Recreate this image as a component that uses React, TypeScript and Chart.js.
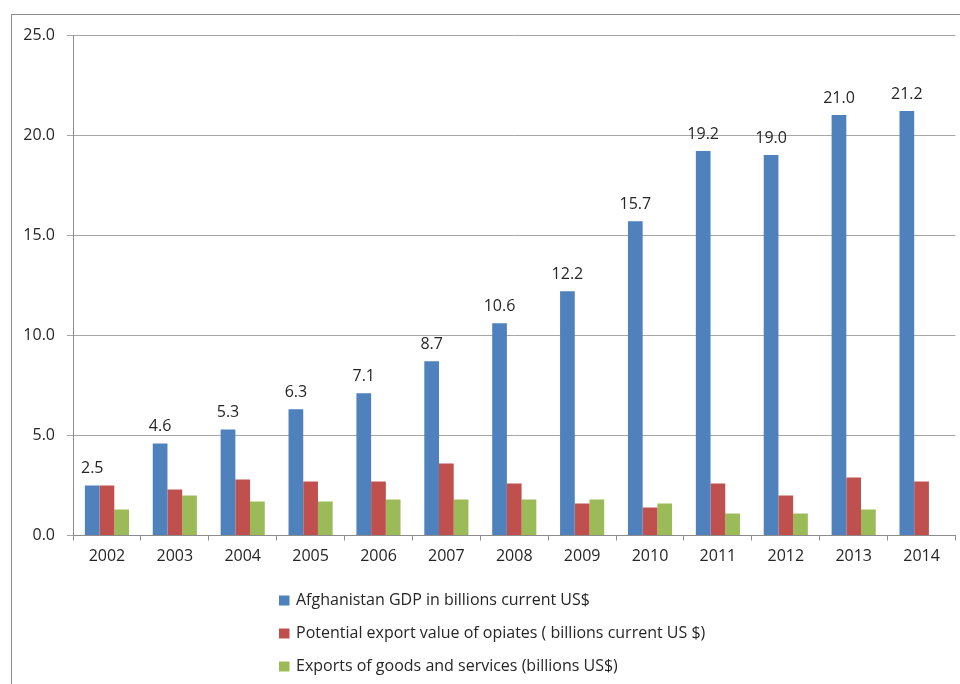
import React, { useEffect, useRef } from "react";
import { Chart, registerables } from "chart.js";

Chart.register(...registerables);

const years = ["2002", "2003", "2004", "2005", "2006", "2007", "2008", "2009", "2010", "2011", "2012", "2013", "2014"];
const gdp = [2.5, 4.6, 5.3, 6.3, 7.1, 8.7, 10.6, 12.2, 15.7, 19.2, 19.0, 21.0, 21.2];
const opiates = [2.5, 2.3, 2.8, 2.7, 2.7, 3.6, 2.6, 1.6, 1.4, 2.6, 2.0, 2.9, 2.7];
const exportsGS = [1.3, 2.0, 1.7, 1.7, 1.8, 1.8, 1.8, 1.8, 1.6, 1.1, 1.1, 1.3, null];
const seriesNames = [
  "Afghanistan GDP in billions current US$",
  "Potential export value of opiates ( billions current US $)",
  "Exports of goods and services (billions US$)",
];
const colors = ["#4F81BD", "#C0504D", "#9BBB59"];

const FONT = "'Open Sans', Lato, sans-serif";
const TEXT = "#262626";
const FS = 16;

const framePlugin = {
  id: "frame",
  beforeDraw(chart: any) {
    const ctx = chart.ctx;
    ctx.save();
    ctx.strokeStyle = "#8c8c8c";
    ctx.lineWidth = 1;
    ctx.strokeRect(11.5, 14.5, 1000, 1000);
    ctx.restore();
  },
};

const labelPlugin = {
  id: "barLabels",
  afterDatasetsDraw(chart: any) {
    const ctx = chart.ctx;
    const meta = chart.getDatasetMeta(0);
    ctx.save();
    ctx.font = `${FS}px ${FONT}`;
    ctx.fillStyle = TEXT;
    ctx.textAlign = "center";
    ctx.textBaseline = "alphabetic";
    meta.data.forEach((bar: any, i: number) => {
      const v = chart.data.datasets[0].data[i];
      if (v == null) return;
      ctx.fillText(Number(v).toFixed(1), bar.x, bar.y - 12);
    });
    ctx.restore();
  },
};

const legendPlugin = {
  id: "vLegend",
  afterDraw(chart: any) {
    const ctx = chart.ctx;
    ctx.save();
    ctx.font = `${FS}px ${FONT}`;
    ctx.textAlign = "left";
    ctx.textBaseline = "alphabetic";
    const baselines = [605, 638, 671];
    chart.data.datasets.forEach((ds: any, i: number) => {
      const b = baselines[i];
      ctx.fillStyle = ds.backgroundColor;
      ctx.fillRect(279, b - 9.5, 10.5, 10);
      ctx.fillStyle = TEXT;
      ctx.fillText(ds.label, 296, b);
    });
    ctx.restore();
  },
};

export default function App() {
  const ref = useRef<HTMLCanvasElement>(null);
  useEffect(() => {
    if (!ref.current) return;
    const chart = new Chart(ref.current, {
      type: "bar",
      data: {
        labels: years,
        datasets: [gdp, opiates, exportsGS].map((d, i) => ({
          label: seriesNames[i],
          data: d as any,
          backgroundColor: colors[i],
          borderWidth: 0,
          barPercentage: 1,
          categoryPercentage: 0.65,
        })),
      },
      options: {
        animation: false,
        responsive: false,
        maintainAspectRatio: false,
        layout: { padding: { top: 35, right: 4.5, bottom: 118.5, left: 0 } },
        plugins: {
          legend: { display: false },
          tooltip: { enabled: false },
          title: { display: false },
        },
        scales: {
          x: {
            grid: {
              display: true,
              drawOnChartArea: false,
              drawTicks: true,
              tickLength: 5,
              color: "#8c8c8c",
              offset: true,
            },
            border: { display: true, color: "#8c8c8c" },
            ticks: { color: TEXT, font: { family: FONT, size: FS }, padding: 6, maxRotation: 0 },
            afterFit(scale: any) {
              scale.height = 30;
            },
          },
          y: {
            min: 0,
            max: 25,
            grid: { color: "#a6a6a6", tickLength: 6, drawTicks: true },
            border: { display: true, color: "#8c8c8c" },
            ticks: {
              stepSize: 5,
              color: TEXT,
              font: { family: FONT, size: FS },
              padding: 12,
              callback: (v: any) => Number(v).toFixed(1),
            },
            afterFit(scale: any) {
              scale.width = 73;
            },
          },
        },
      },
      plugins: [framePlugin, labelPlugin, legendPlugin],
    });
    return () => chart.destroy();
  }, []);
  return (
    <div style={{ position: "fixed", left: 0, top: 0, width: 960, height: 684, background: "#fff" }}>
      <canvas ref={ref} width={960} height={684} style={{ display: "block", width: 960, height: 684 }} />
    </div>
  );
}
